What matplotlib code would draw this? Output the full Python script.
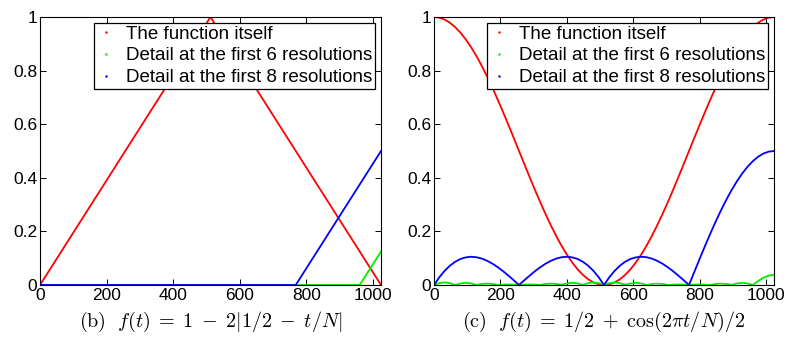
import numpy as np
import matplotlib.pyplot as plt
from matplotlib.lines import Line2D
from matplotlib.ticker import FormatStrFormatter

plt.rcParams['font.family'] = ['Liberation Sans', 'DejaVu Sans']
plt.rcParams['mathtext.fontset'] = 'cm'

# (b) triangle function
tri_t = [0, 512, 1024]
tri_f = [0, 1, 0]
tri_d6_t = [0, 960, 1024]
tri_d6 = [0, 0, 0.125]
tri_d8_t = [0, 768, 1024]
tri_d8 = [0, 0, 0.5]

# (c) raised cosine, read every 16 samples
cos_t = list(range(0, 1025, 16))
cos_f = [1.0, 0.9976, 0.9904, 0.9785, 0.9619, 0.9410, 0.9157, 0.8865,
         0.8536, 0.8172, 0.7778, 0.7357, 0.6913, 0.6451, 0.5975, 0.5490,
         0.5, 0.4510, 0.4025, 0.3549, 0.3087, 0.2643, 0.2222, 0.1828,
         0.1464, 0.1135, 0.0843, 0.0590, 0.0381, 0.0215, 0.0096, 0.0024,
         0.0, 0.0024, 0.0096, 0.0215, 0.0381, 0.0590, 0.0843, 0.1135,
         0.1464, 0.1828, 0.2222, 0.2643, 0.3087, 0.3549, 0.4025, 0.4510,
         0.5, 0.5490, 0.5975, 0.6451, 0.6913, 0.7357, 0.7778, 0.8172,
         0.8536, 0.8865, 0.9157, 0.9410, 0.9619, 0.9785, 0.9904, 0.9976, 1.0]
cos_d6 = [0, 0.0071, 0.0094, 0.0071, 0, 0.0060, 0.0080, 0.0060,
          0, 0.0040, 0.0053, 0.0040, 0, 0.0014, 0.0019, 0.0014,
          0, 0.0014, 0.0019, 0.0014, 0, 0.0040, 0.0053, 0.0040,
          0, 0.0060, 0.0080, 0.0060, 0, 0.0071, 0.0094, 0.0071,
          0, 0.0071, 0.0094, 0.0071, 0, 0.0060, 0.0080, 0.0060,
          0, 0.0040, 0.0053, 0.0040, 0, 0.0014, 0.0019, 0.0014,
          0, 0.0014, 0.0019, 0.0014, 0, 0.0040, 0.0053, 0.0040,
          0, 0.0060, 0.0080, 0.0060, 0, 0.0145, 0.0269, 0.0351, 0.038]
cos_d8 = [0, 0.0289, 0.0529, 0.0722, 0.0869, 0.0973, 0.1032, 0.1053,
          0.1036, 0.0985, 0.0903, 0.0795, 0.0663, 0.0514, 0.0350, 0.0178,
          0, 0.0178, 0.0350, 0.0514, 0.0663, 0.0795, 0.0903, 0.0985,
          0.1036, 0.1053, 0.1032, 0.0973, 0.0869, 0.0722, 0.0529, 0.0289,
          0, 0.0289, 0.0529, 0.0722, 0.0869, 0.0973, 0.1032, 0.1053,
          0.1036, 0.0985, 0.0903, 0.0795, 0.0663, 0.0514, 0.0350, 0.0178,
          0, 0.0490, 0.0975, 0.1451, 0.1913, 0.2357, 0.2778, 0.3172,
          0.3536, 0.3865, 0.4157, 0.4410, 0.4619, 0.4785, 0.4904, 0.4976, 0.5]

labels = ["The function itself",
          "Detail at the first 6 resolutions",
          "Detail at the first 8 resolutions"]
colors = ['#ff0000', '#00ee00', '#0000ff']
captions = [r"$\mathrm{(b)}\ \ f(t)\;=\;1\;-\;2|1/2\;-\;t/N|$",
            r"$\mathrm{(c)}\ \ f(t)\;=\;1/2\;+\;\cos(2\pi t/N)/2$"]

fig = plt.figure(figsize=(7.89, 3.47), dpi=100)
ax1 = fig.add_axes([0.0507, 0.1787, 0.4322, 0.7723])
ax2 = fig.add_axes([0.5501, 0.1787, 0.4309, 0.7723])

lw = 1.3
ax1.plot(tri_t, tri_f, color=colors[0], lw=lw)
ax1.plot(tri_d6_t, tri_d6, color=colors[1], lw=lw)
ax1.plot(tri_d8_t, tri_d8, color=colors[2], lw=lw)

ax2.plot(cos_t, cos_f, color=colors[0], lw=lw)
ax2.plot(cos_t, cos_d6, color=colors[1], lw=lw)
ax2.plot(cos_t, cos_d8, color=colors[2], lw=lw)

handles = [Line2D([], [], color=c, marker='.', markersize=1.5, linestyle='none')
           for c in colors]

for ax, cap in zip([ax1, ax2], captions):
    ax.set_xlim(0, 1024)
    ax.set_ylim(0, 1)
    ax.set_xticks([0, 200, 400, 600, 800, 1000])
    ax.set_yticks([0, 0.2, 0.4, 0.6, 0.8, 1])
    ax.yaxis.set_major_formatter(FormatStrFormatter('%g'))
    ax.tick_params(direction='in', top=True, right=True, length=4,
                   width=0.7, labelsize=12.5, pad=2)
    for s in ax.spines.values():
        s.set_linewidth(0.8)
    ax.set_xlabel(cap, fontsize=14.5, labelpad=5)
    leg = ax.legend(handles, labels, loc='upper right', fontsize=13.5,
                    fancybox=False, framealpha=1, edgecolor='black',
                    borderpad=0.15, labelspacing=0.25, handlelength=1.0,
                    handletextpad=0.6, borderaxespad=0.3)
    leg.get_frame().set_linewidth(0.9)

fig.savefig('out.png', dpi=100)
